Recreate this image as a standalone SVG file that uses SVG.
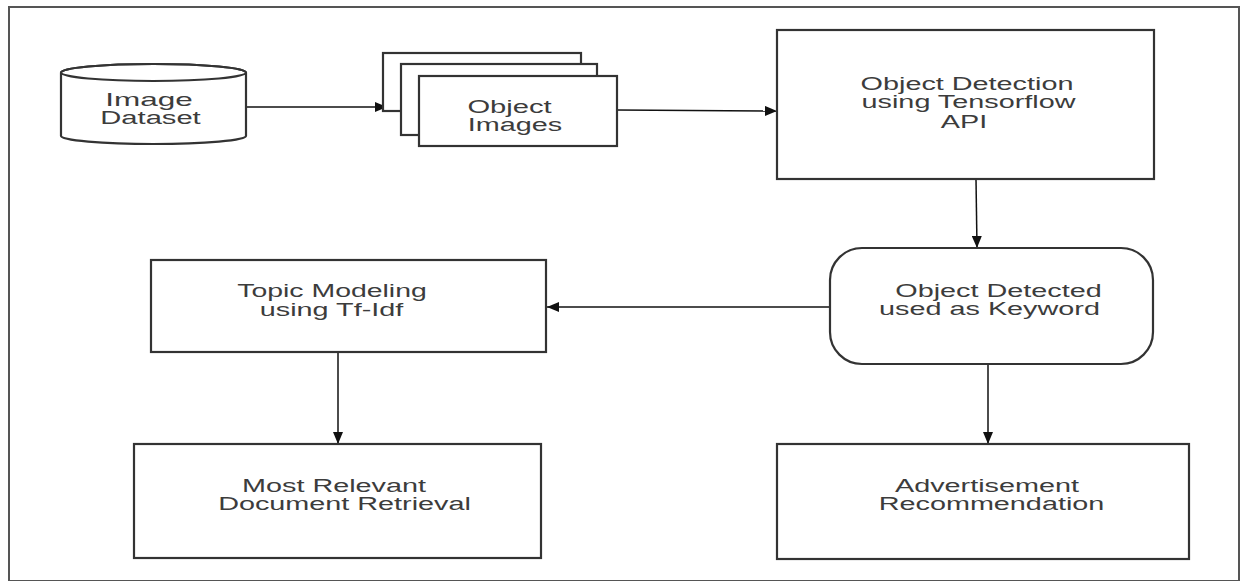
<svg xmlns="http://www.w3.org/2000/svg" width="1242" height="581" viewBox="0 0 1242 581">
<defs>
<style>
.box{fill:#fff;stroke:#333;stroke-width:2.2}
.lbl{font-family:"Liberation Sans",Arial,sans-serif;font-size:18px;fill:#3c3c3c;text-anchor:middle}
.con{fill:none;stroke:#111;stroke-width:1.5}
</style>
<marker id="ah" markerWidth="12" markerHeight="10" refX="12" refY="5" orient="auto" markerUnits="userSpaceOnUse">
<path d="M0,0 L12,5 L0,10 Z" fill="#111"/>
</marker>
</defs>
<rect width="1242" height="581" fill="#fff"/>
<rect x="9" y="7" width="1230" height="574" fill="none" stroke="#555" stroke-width="2"/>

<g id="connectors">
<line class="con" x1="246" y1="107" x2="387" y2="107" marker-end="url(#ah)"/>
<line class="con" x1="617" y1="110" x2="777" y2="111" marker-end="url(#ah)"/>
<line class="con" x1="976" y1="179" x2="977" y2="248" marker-end="url(#ah)"/>
<line class="con" x1="830" y1="307" x2="547" y2="307" marker-end="url(#ah)"/>
<line class="con" x1="338" y1="352" x2="338" y2="444" marker-end="url(#ah)"/>
<line class="con" x1="988" y1="364" x2="988" y2="444" marker-end="url(#ah)"/>
</g>

<g id="image-dataset">
<path class="box" d="M61,72.5 L61,136 A92.5,8 0 0 0 246,136 L246,72.5 A92.5,8.5 0 0 0 61,72.5 Z"/>
<ellipse cx="153.5" cy="72.5" rx="92.5" ry="8.5" fill="none" stroke="#333" stroke-width="2.2"/>
<text class="lbl" transform="translate(149,106) scale(1.75,1)">Image</text>
<text class="lbl" transform="translate(150.5,124) scale(1.62,1)">Dataset</text>
</g>

<g id="object-images">
<rect class="box" x="383" y="53" width="198" height="58"/>
<rect class="box" x="401" y="64" width="196" height="71"/>
<rect class="box" x="419" y="76" width="198" height="70"/>
<text class="lbl" transform="translate(509.5,113) scale(1.62,1)">Object</text>
<text class="lbl" transform="translate(515,131) scale(1.6,1)">Images</text>
</g>

<g id="object-detection">
<rect class="box" x="777" y="30" width="377" height="149"/>
<text class="lbl" transform="translate(967,90) scale(1.6,1)">Object Detection</text>
<text class="lbl" transform="translate(968.5,108) scale(1.6,1)">using Tensorflow</text>
<text class="lbl" transform="translate(964,128) scale(1.6,1)">API</text>
</g>

<g id="object-detected">
<rect class="box" x="830" y="248" width="323" height="116" rx="32" ry="32"/>
<text class="lbl" transform="translate(998.5,297) scale(1.6,1)">Object Detected</text>
<text class="lbl" transform="translate(989.5,315) scale(1.6,1)">used as Keyword</text>
</g>

<g id="topic-modeling">
<rect class="box" x="151" y="260" width="395" height="92"/>
<text class="lbl" transform="translate(332,297) scale(1.58,1)">Topic Modeling</text>
<text class="lbl" transform="translate(331.5,316) scale(1.6,1)">using Tf-Idf</text>
</g>

<g id="document-retrieval">
<rect class="box" x="134" y="444" width="407" height="114"/>
<text class="lbl" transform="translate(334,492) scale(1.6,1)">Most Relevant</text>
<text class="lbl" transform="translate(344.5,510) scale(1.6,1)">Document Retrieval</text>
</g>

<g id="advertisement">
<rect class="box" x="777" y="444" width="412" height="115"/>
<text class="lbl" transform="translate(987,492) scale(1.6,1)">Advertisement</text>
<text class="lbl" transform="translate(991.5,510) scale(1.6,1)">Recommendation</text>
</g>
</svg>
